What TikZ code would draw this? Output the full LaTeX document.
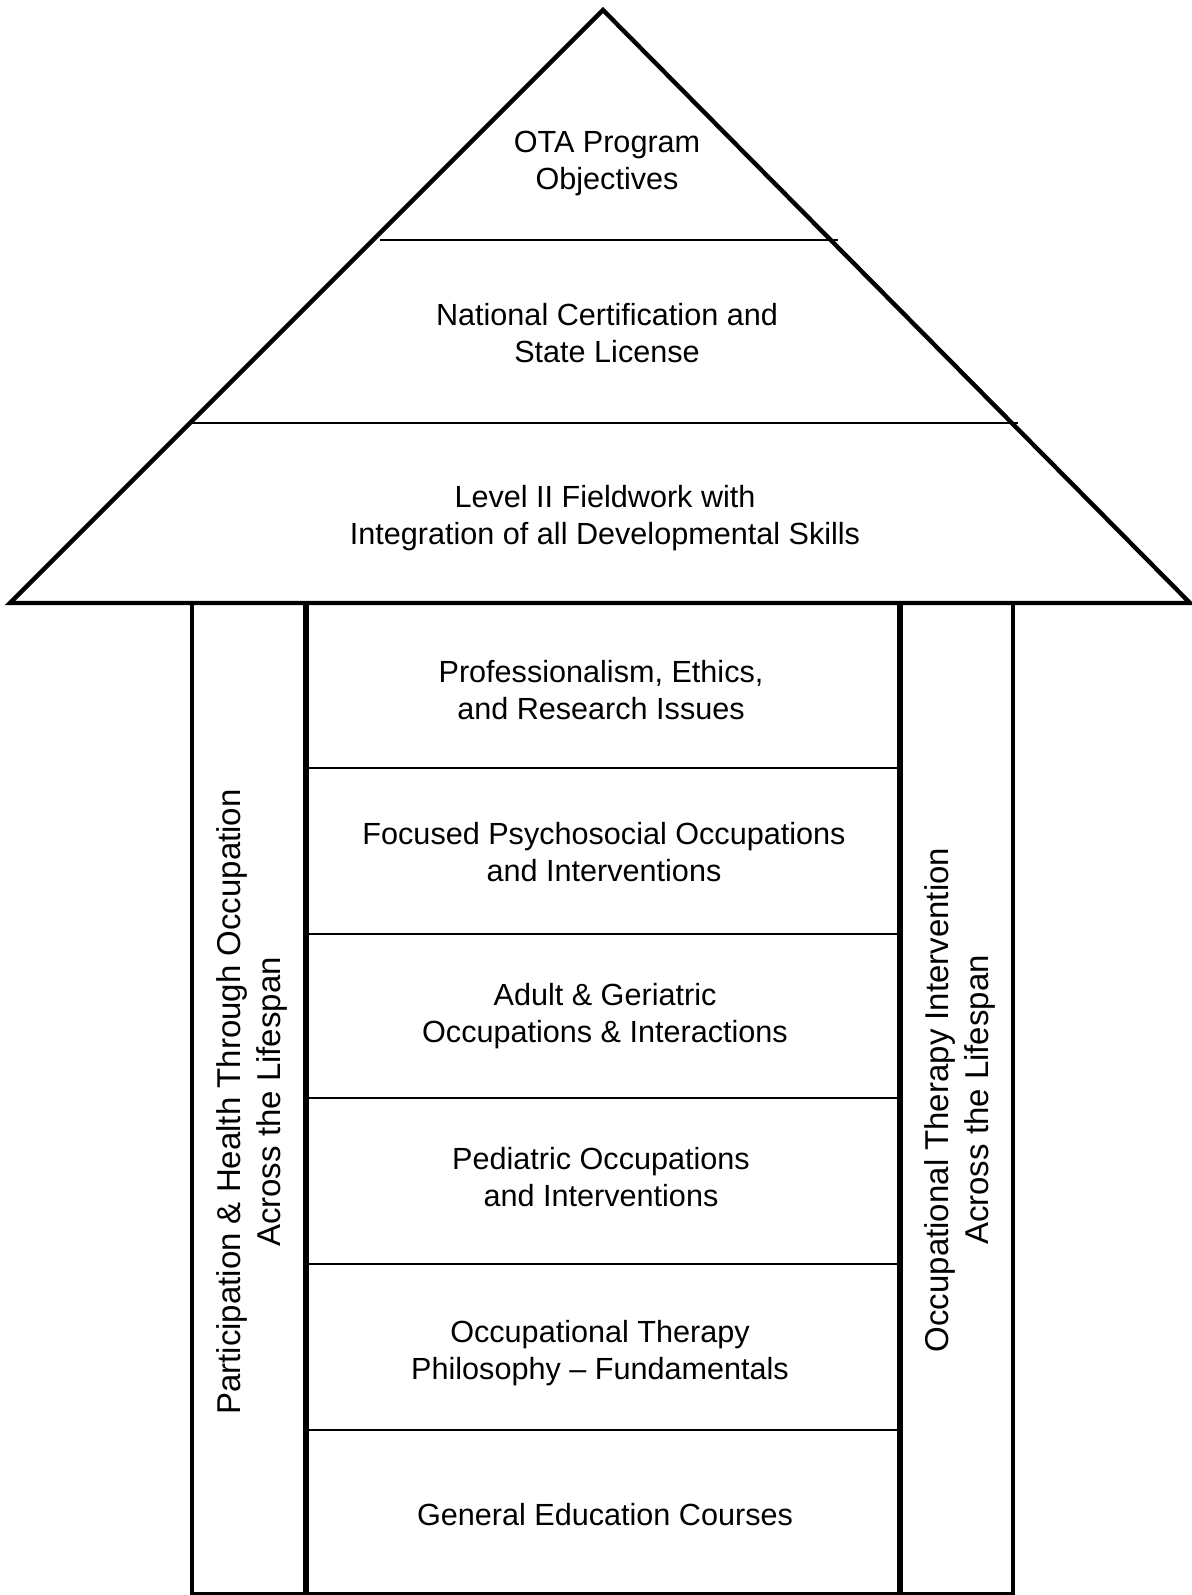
\documentclass[tikz,border=0pt]{standalone}
\usepackage{fontspec}
\setmainfont{Liberation Sans}
\begin{document}
\begin{tikzpicture}[x=0.5pt,y=-0.5pt,
		every node/.style={align=center,inner sep=0pt,font=\fontsize{15.3}{18.5}\selectfont},
		side/.style={rotate=90,font=\fontsize{16.5}{19.8}\selectfont},
		roof/.style={line width=2.2pt,line join=miter},
		layer/.style={line width=1pt},
		pillar/.style={line width=2pt},
		core/.style={line width=3pt}]
	\useasboundingbox (0,0) rectangle (1191,1595);
	\coordinate (apex) at (603,10);
	\coordinate (eaveL) at (10,603);
	\coordinate (eaveR) at (1190,603);
	\draw[roof] (apex) -- (eaveR) -- (eaveL) -- cycle;
	\draw[layer] (380,240) -- (838,240);
	\draw[layer] (192,423) -- (1018,423);
	\draw[pillar] (192,603) -- (192,1594) -- (1013,1594) -- (1013,603);
	\draw[core] (306,603) -- (306,1596);
	\draw[core] (900,603) -- (900,1596);
	\foreach \y in {768,934,1098,1264,1430}
		\draw[layer] (306,\y) -- (900,\y);
	\node (objectives) at (607,163) {OTA Program\\Objectives};
	\node (licence) at (607,333) {National Certification and\\State License};
	\node (fieldwork) at (605,518) {Level II Fieldwork with\\Integration of all Developmental Skills};
	\node (ethics) at (601,690) {Professionalism, Ethics,\\and Research Issues};
	\node (psychosocial) at (604,852) {Focused Psychosocial Occupations\\and Interventions};
	\node (adult) at (605,1016) {Adult \& Geriatric\\Occupations \& Interactions};
	\node (pediatric) at (601,1177) {Pediatric Occupations\\and Interventions};
	\node (philosophy) at (600,1353) {Occupational Therapy\\Philosophy -- Fundamentals};
	\node (gened) at (605,1515) {General Education Courses};
	\node[side] (participation) at (252,1102) {Participation \& Health Through Occupation\\Across the Lifespan};
	\node[side] (intervention) at (960,1100) {Occupational Therapy Intervention\\Across the Lifespan};
\end{tikzpicture}
\end{document}
